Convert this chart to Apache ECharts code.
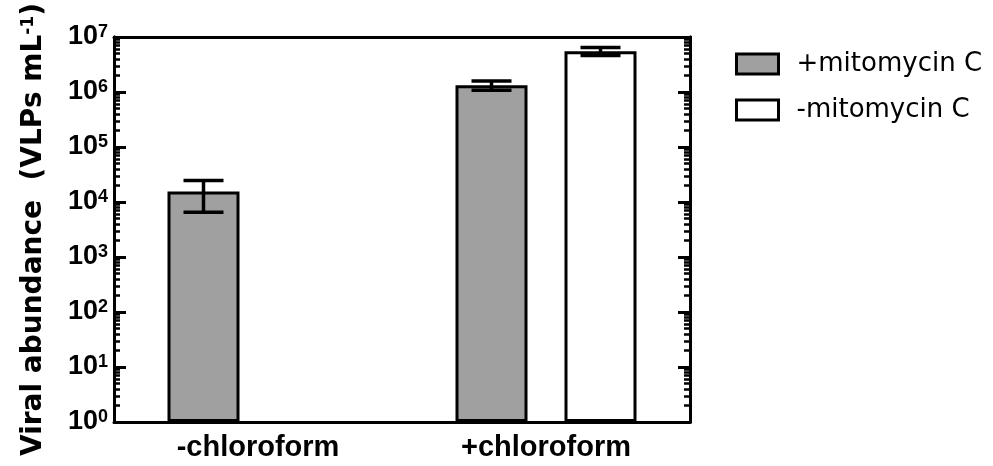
<!DOCTYPE html>
<html>
<head>
<meta charset="utf-8">
<title>Viral abundance</title>
<script src="https://cdn.jsdelivr.net/npm/echarts@6/dist/echarts.min.js"></script>
<style>
  html, body { margin: 0; padding: 0; background: #fff; }
  #main { width: 993px; height: 466px; }
</style>
</head>
<body>
<div id="main"></div>
<script>
// data
var categories = ['-chloroform', '+chloroform'];
var seriesNames = ['+mitomycin C', '-mitomycin C'];
var mitoPlus = [1.55e4, 1.33e6];
var mitoPlusLow = [6.5e3, 1.08e6];
var mitoPlusHigh = [2.45e4, 1.58e6];
var mitoMinus = [null, 5.5e6];
var mitoMinusLow = [null, 4.6e6];
var mitoMinusHigh = [null, 6.45e6];
var decades = [1, 10, 100, 1e3, 1e4, 1e5, 1e6, 1e7];

// minor ticks at 2..9 of every decade
var minorTicks = [];
for (var d = 0; d < decades.length - 1; d++) {
  for (var k = 2; k <= 9; k++) minorTicks.push(k * decades[d]);
}

var BAR_W = 72;
var SHIFT = 54.5;   // half distance between bar centres in a group
var boldFont = 'Liberation Sans';

function errorSeries(low, high, shift) {
  var data = [];
  for (var i = 0; i < low.length; i++) {
    if (low[i] != null) data.push([i, low[i], high[i]]);
  }
  return {
    type: 'custom',
    z: 5,
    silent: true,
    encode: { x: 0, y: [1, 2] },
    data: data,
    renderItem: function (params, api) {
      var lo = api.coord([api.value(0), api.value(1)]);
      var hi = api.coord([api.value(0), api.value(2)]);
      var cx = lo[0] + shift, half = 20;
      var st = { stroke: '#000', lineWidth: 3.5 };
      return {
        type: 'group',
        children: [
          { type: 'line', shape: { x1: cx, y1: hi[1], x2: cx, y2: lo[1] }, style: st },
          { type: 'line', shape: { x1: cx - half, y1: hi[1], x2: cx + half, y2: hi[1] }, style: st },
          { type: 'line', shape: { x1: cx - half, y1: lo[1], x2: cx + half, y2: lo[1] }, style: st }
        ]
      };
    }
  };
}

function yAxisDef(pos, major) {
  var ax = {
    type: 'log',
    logBase: 10,
    min: 1,
    max: 1e7,
    position: pos,
    splitLine: { show: false },
    axisLine: { show: true, lineStyle: { color: '#000', width: 3 } },
    axisTick: { show: true, inside: true, length: major ? 12 : 6, lineStyle: { color: '#000', width: major ? 3 : 2.5 } },
    axisLabel: { show: false }
  };
  if (!major) {
    ax.axisTick.customValues = minorTicks;
    ax.axisLabel.customValues = minorTicks;
  }
  return ax;
}

var chart = echarts.init(document.getElementById('main'));

var leftMajor = yAxisDef('left', true);
leftMajor.axisLabel = {
  show: true,
  margin: 6,
  color: '#000',
  fontFamily: boldFont,
  fontWeight: 'bold',
  fontSize: 27,
  lineHeight: 28,
  formatter: function (v) { return '10{s|' + Math.round(Math.log10(v)) + '}'; },
  rich: { s: { fontFamily: boldFont, fontWeight: 'bold', fontSize: 18, lineHeight: 28, verticalAlign: 'top', color: '#000' } }
};
leftMajor.name = 'Viral abundance  (VLPs mL{s|-1})';
leftMajor.nameLocation = 'middle';
leftMajor.nameGap = 66;
leftMajor.nameTextStyle = {
  color: '#000',
  fontFamily: 'DejaVu Sans',
  fontWeight: 'bold',
  fontSize: 28,
  rich: { s: { fontFamily: 'DejaVu Sans', fontWeight: 'bold', fontSize: 17, verticalAlign: 'top', color: '#000' } }
};

var option = {
  animation: false,
  backgroundColor: '#fff',
  grid: { left: 114, right: 303, top: 36, bottom: 44 },
  legend: {
    data: seriesNames,
    orient: 'vertical',
    left: 730,
    top: 46,
    icon: 'rect',
    itemWidth: 42,
    itemHeight: 20,
    itemGap: 20,
    itemStyle: { borderColor: '#000', borderWidth: 3 },
    textStyle: { color: '#000', fontFamily: 'DejaVu Sans', fontSize: 26, lineHeight: 23, padding: [0, 0, 0, 13] }
  },
  xAxis: [{
    type: 'category',
    data: categories,
    position: 'bottom',
    axisLine: { lineStyle: { color: '#000', width: 3 } },
    axisTick: { alignWithLabel: true, length: 10, lineStyle: { color: '#000', width: 3 } },
    axisLabel: { color: '#000', fontFamily: boldFont, fontWeight: 'bold', fontSize: 29, margin: 11 }
  }, {
    type: 'category',
    data: categories,
    position: 'top',
    axisLine: { lineStyle: { color: '#000', width: 3 } },
    axisTick: { alignWithLabel: true, inside: true, length: 10, lineStyle: { color: '#000', width: 3 } },
    axisLabel: { show: false }
  }],
  yAxis: [leftMajor, yAxisDef('left', false), yAxisDef('right', true), yAxisDef('right', false)],
  series: [{
    name: seriesNames[0],
    type: 'bar',
    data: mitoPlus,
    barWidth: BAR_W,
    barGap: ((2 * SHIFT - BAR_W) / BAR_W * 100) + '%',
    itemStyle: { color: '#a0a0a0', borderColor: '#000', borderWidth: 3 }
  }, {
    name: seriesNames[1],
    type: 'bar',
    data: mitoMinus,
    barWidth: BAR_W,
    itemStyle: { color: '#fff', borderColor: '#000', borderWidth: 3 }
  },
  errorSeries(mitoPlusLow, mitoPlusHigh, -SHIFT),
  errorSeries(mitoMinusLow, mitoMinusHigh, SHIFT)]
};

chart.setOption(option);
</script>
</body>
</html>
